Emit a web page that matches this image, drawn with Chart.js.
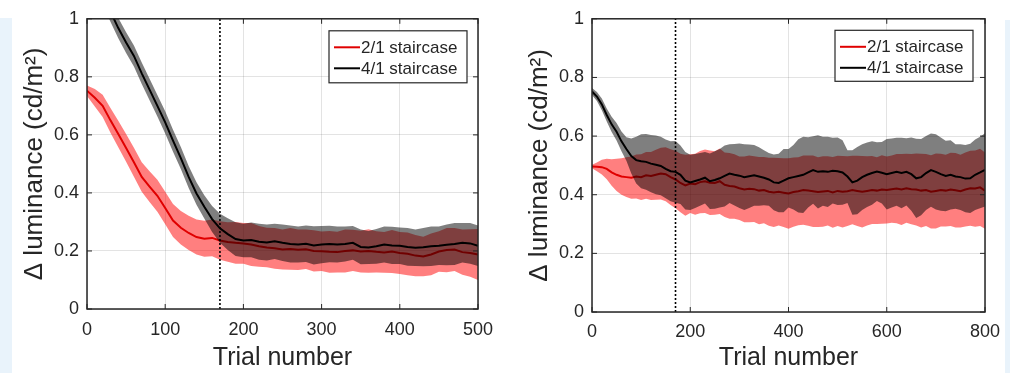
<!DOCTYPE html>
<html><head><meta charset="utf-8">
<script src="https://cdn.jsdelivr.net/npm/chart.js@4.4.1/dist/chart.umd.min.js"></script>
<style>
html,body{margin:0;padding:0;background:#fff;}
body{width:1010px;height:373px;position:relative;overflow:hidden;}
.strip{position:absolute;background:#e9f3fb;}
canvas{position:absolute;top:0;}
</style></head><body>
<div class="strip" style="left:0;top:18px;width:12px;height:355px"></div>
<div class="strip" style="left:1005px;top:20px;width:5px;height:353px"></div>
<canvas id="c1" width="505" height="373" style="left:0"></canvas>
<canvas id="c2" width="505" height="373" style="left:505px"></canvas>
<script>
// ---------- DATA ----------
const seriesNames = ['2/1 staircase', '4/1 staircase'];
const switchTrial = 170;
const yTicks = [0, 0.2, 0.4, 0.6, 0.8, 1];
const yTickLabels = ['0', '0.2', '0.4', '0.6', '0.8', '1'];
const leftXTicks = [0, 100, 200, 300, 400, 500];
const rightXTicks = [0, 200, 400, 600, 800];

// Left panel (trials 0..500)
const leftTrials = [0,10,20,30,40,50,60,70,80,90,100,110,120,130,140,150,160,170,180,190,200,210,220,230,240,250,260,270,280,290,300,310,320,330,340,350,360,370,380,390,400,410,420,430,440,450,460,470,480,490,500];
const leftRedMean = [0.752,0.728,0.700,0.650,0.603,0.555,0.506,0.455,0.422,0.390,0.348,0.305,0.280,0.262,0.248,0.242,0.245,0.236,0.231,0.228,0.226,0.222,0.216,0.212,0.209,0.205,0.207,0.204,0.206,0.200,0.199,0.197,0.196,0.200,0.202,0.198,0.200,0.197,0.195,0.198,0.193,0.190,0.184,0.181,0.188,0.198,0.203,0.205,0.196,0.193,0.188];
const leftRedHw = [0.018,0.030,0.038,0.043,0.046,0.048,0.050,0.051,0.053,0.055,0.056,0.057,0.058,0.059,0.060,0.062,0.063,0.066,0.068,0.072,0.070,0.074,0.070,0.068,0.070,0.069,0.072,0.070,0.068,0.071,0.068,0.072,0.070,0.074,0.071,0.072,0.075,0.071,0.070,0.074,0.072,0.074,0.071,0.068,0.072,0.070,0.076,0.074,0.078,0.082,0.088];
const leftBlackMean = [1.190,1.135,1.080,1.025,0.968,0.918,0.872,0.812,0.756,0.700,0.643,0.580,0.520,0.455,0.398,0.352,0.310,0.278,0.258,0.241,0.236,0.238,0.232,0.229,0.233,0.228,0.224,0.222,0.225,0.219,0.222,0.224,0.222,0.224,0.228,0.214,0.212,0.216,0.222,0.219,0.218,0.214,0.211,0.213,0.216,0.218,0.221,0.224,0.228,0.226,0.218];
const leftBlackHw = [0.030,0.032,0.034,0.035,0.035,0.036,0.036,0.037,0.037,0.037,0.038,0.038,0.038,0.038,0.039,0.040,0.045,0.050,0.055,0.058,0.058,0.060,0.062,0.062,0.061,0.063,0.064,0.062,0.063,0.066,0.064,0.063,0.062,0.060,0.058,0.060,0.057,0.060,0.062,0.064,0.063,0.065,0.063,0.066,0.068,0.066,0.070,0.072,0.068,0.070,0.070];

// Right panel (trials 0..800)
const rightTrials = [0,10,20,30,40,50,60,70,80,90,100,110,120,130,140,150,160,170,180,190,200,210,220,230,240,250,260,270,280,290,300,310,320,330,340,350,360,370,380,390,400,410,420,430,440,450,460,470,480,490,500,510,520,530,540,550,560,570,580,590,600,610,620,630,640,650,660,670,680,690,700,710,720,730,740,750,760,770,780,790,800];
const rightRedMean = [0.496,0.495,0.494,0.488,0.476,0.468,0.462,0.460,0.458,0.462,
  0.460,0.466,0.464,0.468,0.472,0.470,0.460,0.452,0.440,0.432,
  0.438,0.436,0.443,0.446,0.441,0.440,0.446,0.434,0.430,0.428,
  0.422,0.418,0.420,0.419,0.414,0.416,0.410,0.408,0.410,0.407,
  0.404,0.409,0.412,0.416,0.414,0.412,0.409,0.411,0.413,0.408,
  0.413,0.410,0.412,0.416,0.413,0.410,0.413,0.416,0.414,0.418,
  0.416,0.419,0.421,0.418,0.422,0.419,0.418,0.414,0.416,0.410,
  0.413,0.416,0.414,0.418,0.415,0.412,0.418,0.422,0.421,0.425,0.414];
const rightRedHw = [0.006,0.015,0.025,0.035,0.045,0.055,0.062,0.068,0.072,0.075,
  0.078,0.080,0.082,0.085,0.088,0.092,0.095,0.098,0.100,0.104,
  0.100,0.104,0.106,0.108,0.110,0.108,0.112,0.110,0.112,0.110,
  0.108,0.112,0.114,0.112,0.115,0.113,0.116,0.118,0.115,0.117,
  0.120,0.118,0.116,0.118,0.120,0.122,0.119,0.120,0.118,0.121,
  0.120,0.122,0.119,0.117,0.120,0.122,0.118,0.116,0.114,0.117,
  0.114,0.115,0.118,0.121,0.118,0.120,0.123,0.126,0.123,0.125,
  0.128,0.124,0.122,0.125,0.127,0.124,0.126,0.128,0.130,0.132,0.130];
const rightBlackMean = [0.752,0.735,0.708,0.672,0.640,0.615,0.582,0.556,0.532,0.518,
  0.514,0.512,0.506,0.502,0.498,0.488,0.480,0.478,0.468,0.448,
  0.442,0.447,0.452,0.458,0.446,0.450,0.456,0.464,0.472,0.468,
  0.465,0.460,0.463,0.466,0.462,0.458,0.452,0.442,0.440,0.448,
  0.456,0.460,0.464,0.468,0.476,0.484,0.478,0.480,0.478,0.482,
  0.480,0.476,0.462,0.442,0.448,0.460,0.468,0.474,0.479,0.475,
  0.470,0.474,0.478,0.474,0.478,0.470,0.456,0.460,0.474,0.484,
  0.478,0.470,0.464,0.468,0.462,0.460,0.455,0.456,0.468,0.476,0.485];
const rightBlackHw = [0.012,0.015,0.020,0.022,0.026,0.030,0.034,0.040,0.060,0.080,
  0.092,0.095,0.098,0.100,0.100,0.100,0.102,0.105,0.100,0.098,
  0.094,0.092,0.090,0.088,0.095,0.098,0.100,0.104,0.100,0.105,
  0.110,0.112,0.108,0.104,0.100,0.094,0.090,0.095,0.100,0.108,
  0.100,0.110,0.125,0.130,0.120,0.115,0.125,0.118,0.120,0.112,
  0.115,0.110,0.090,0.110,0.115,0.112,0.110,0.108,0.100,0.105,
  0.120,0.118,0.116,0.120,0.115,0.125,0.135,0.130,0.126,0.125,
  0.128,0.125,0.120,0.118,0.110,0.112,0.115,0.118,0.120,0.122,0.125];

// ---------- CHART ----------
const FONT = "'Liberation Sans', Arial, Helvetica, sans-serif";
const TXT = '#262626';
const RED = '#e00000';
Chart.defaults.font.family = FONT;

const matlabAxes = {
  id: 'matlabAxes',
  afterDraw(chart, args, opts) {
    const {ctx, chartArea: a} = chart;
    const x = chart.scales.x, y = chart.scales.y;
    ctx.save();
    ctx.lineWidth = 1;
    ctx.strokeStyle = TXT;
    const tl = 5;
    ctx.beginPath();
    x.ticks.forEach(t => {
      const px = x.getPixelForValue(t.value);
      ctx.moveTo(px, a.bottom); ctx.lineTo(px, a.bottom - tl);
      ctx.moveTo(px, a.top); ctx.lineTo(px, a.top + tl);
    });
    y.ticks.forEach(t => {
      const py = y.getPixelForValue(t.value);
      ctx.moveTo(a.left, py); ctx.lineTo(a.left + tl, py);
      ctx.moveTo(a.right, py); ctx.lineTo(a.right - tl, py);
    });
    ctx.stroke();
    ctx.lineWidth = 1.5;
    ctx.strokeRect(a.left, a.top, a.width, a.height);
    // legend box
    const bx = a.right - opts.dx - opts.w, by = a.top + opts.dy;
    ctx.fillStyle = '#fff';
    ctx.fillRect(bx, by, opts.w, opts.h);
    ctx.lineWidth = 1.2;
    ctx.strokeStyle = TXT;
    ctx.strokeRect(bx, by, opts.w, opts.h);
    const items = chart.data.datasets.filter(d => d.legendRank !== undefined).sort((p, q) => p.legendRank - q.legendRank);
    ctx.font = '17px ' + FONT;
    ctx.textBaseline = 'middle';
    ctx.textAlign = 'left';
    items.forEach((d, i) => {
      const cy = by + 16.5 + i * 21;
      ctx.beginPath();
      ctx.strokeStyle = d.borderColor;
      ctx.lineWidth = 2;
      ctx.moveTo(bx + 5, cy); ctx.lineTo(bx + 31, cy);
      ctx.stroke();
      ctx.fillStyle = TXT;
      ctx.fillText(d.label, bx + 32, cy + 1);
    });
    ctx.restore();
  }
};

function xy(xs, ys) { return xs.map((v, i) => ({x: v, y: ys[i]})); }
function band(m, h, s) { return m.map((v, i) => v + s * h[i]); }

function buildChart(id, o) {
  const t = o.trials;
  const datasets = [
    {label: seriesNames[1], legendRank: 1, data: xy(t, o.blackMean), borderColor: '#000', borderWidth: 2, order: 0},
    {label: '4/1 upper', data: xy(t, band(o.blackMean, o.blackHw, 1)), borderColor: 'rgba(0,0,0,0)', borderWidth: 0, backgroundColor: 'rgba(0,0,0,0.5)', fill: {target: 2}, order: 1},
    {label: '4/1 lower', data: xy(t, band(o.blackMean, o.blackHw, -1)), borderColor: 'rgba(0,0,0,0)', borderWidth: 0, fill: false, order: 1},
    {label: seriesNames[0], legendRank: 0, data: xy(t, o.redMean), borderColor: RED, borderWidth: 2, order: 2},
    {label: '2/1 upper', data: xy(t, band(o.redMean, o.redHw, 1)), borderColor: 'rgba(0,0,0,0)', borderWidth: 0, backgroundColor: 'rgba(255,0,0,0.5)', fill: {target: 5}, order: 3},
    {label: '2/1 lower', data: xy(t, band(o.redMean, o.redHw, -1)), borderColor: 'rgba(0,0,0,0)', borderWidth: 0, fill: false, order: 3},
    {label: 'switch', data: [{x: switchTrial, y: yTicks[0]}, {x: switchTrial, y: yTicks[yTicks.length - 1]}], borderColor: '#000', borderWidth: 1.6, borderDash: [2, 2], fill: false, order: -1}
  ];
  return new Chart(document.getElementById(id), {
    type: 'line',
    data: {datasets},
    options: {
      responsive: false,
      animation: false,
      events: [],
      layout: {padding: o.pad},
      elements: {point: {radius: 0}, line: {tension: 0}},
      plugins: {legend: {display: false}, tooltip: {enabled: false}, matlabAxes: o.legend},
      scales: {
        x: {
          type: 'linear', min: 0, max: o.xTicks[o.xTicks.length - 1],
          afterBuildTicks: s => { s.ticks = o.xTicks.map(v => ({value: v})); },
          afterFit: s => { s.height = o.xh; },
          grid: {color: 'rgba(38,38,38,0.13)', drawTicks: false},
          border: {display: false},
          ticks: {font: {size: 18}, color: TXT, padding: o.xpad, maxRotation: 0, autoSkip: false,
                  callback: (v, i) => String(o.xTicks[i])},
          title: {display: true, text: 'Trial number', font: {size: 25}, color: TXT, padding: {top: 0, bottom: 0}}
        },
        y: {
          type: 'linear', min: 0, max: 1,
          afterBuildTicks: s => { s.ticks = yTicks.map(v => ({value: v})); },
          afterFit: s => { s.width = 87; },
          grid: {color: 'rgba(38,38,38,0.13)', drawTicks: false},
          border: {display: false},
          ticks: {font: {size: 18}, color: TXT, padding: 8, autoSkip: false,
                  callback: (v, i) => yTickLabels[i]},
          title: {display: true, text: 'Δ luminance (cd/m²)', font: {size: 26}, color: TXT, padding: {top: 19, bottom: 0}}
        }
      }
    },
    plugins: [matlabAxes]
  });
}

buildChart('c1', {
  trials: leftTrials, redMean: leftRedMean, redHw: leftRedHw, blackMean: leftBlackMean, blackHw: leftBlackHw,
  xTicks: leftXTicks, pad: {left: 0, right: 27, top: 15, bottom: 0}, xh: 64, xpad: 10,
  legend: {dx: 11, dy: 12, w: 138, h: 52}
});
buildChart('c2', {
  trials: rightTrials, redMean: rightRedMean, redHw: rightRedHw, blackMean: rightBlackMean, blackHw: rightBlackHw,
  xTicks: rightXTicks, pad: {left: 0, right: 25, top: 18.5, bottom: 0}, xh: 61, xpad: 9,
  legend: {dx: 12, dy: 11.5, w: 138, h: 51}
});
</script>
</body></html>
